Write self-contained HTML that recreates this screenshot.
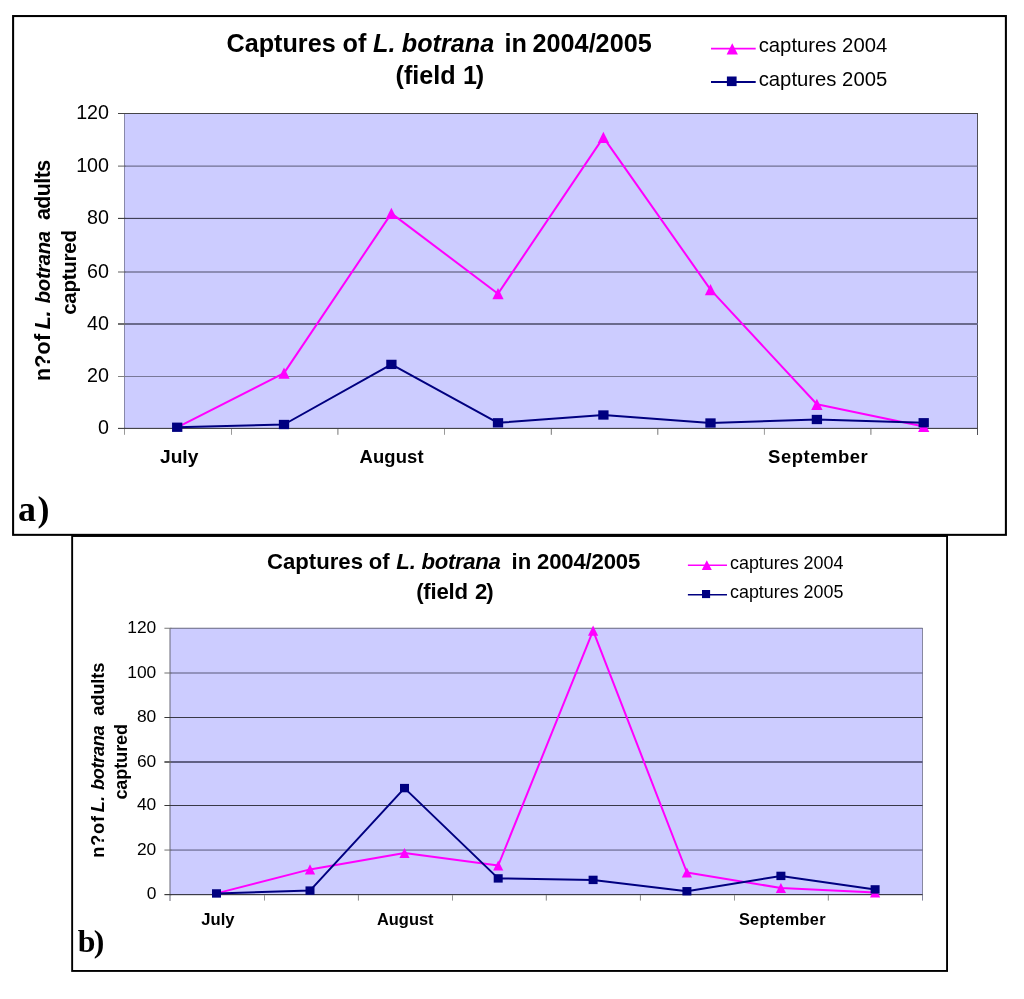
<!DOCTYPE html>
<html lang="en"><head><meta charset="utf-8"><title>Captures of L. botrana in 2004/2005</title>
<style>html,body{margin:0;padding:0;background:#fff}body{width:1024px;height:999px;overflow:hidden}svg{display:block}text{font-family:"Liberation Sans",Arial,Helvetica,sans-serif;fill:#000}.b{font-weight:bold}.i{font-style:italic}.s{font-family:"Liberation Serif","Times New Roman",serif;font-weight:bold}</style></head><body>
<svg width="1024" height="999" viewBox="0 0 1024 999">
<rect width="1024" height="999" fill="#fff"/>
<rect x="13.1" y="16.05" width="992.8" height="518.8" fill="#fff" stroke="#000" stroke-width="2.05"/>
<rect x="124.5" y="114" width="853" height="314.4" fill="#ccccff"/>
<rect x="124" y="114" width="1" height="314" fill="#8888aa"/>
<rect x="977" y="113" width="1" height="322" fill="#505058"/>
<rect x="124.5" y="113" width="853.5" height="1" fill="#454548"/>
<rect x="118" y="113" width="7.5" height="1" fill="#454545"/>
<rect x="124.5" y="165.6" width="853.5" height="1" fill="#5a5a78"/>
<rect x="118" y="165.6" width="7.5" height="1" fill="#606060"/>
<rect x="124.5" y="217.86" width="853.5" height="1.15" fill="#404058"/>
<rect x="118" y="217.86" width="7.5" height="1.15" fill="#404040"/>
<rect x="124.5" y="271.5" width="853.5" height="1" fill="#4c4c68"/>
<rect x="118" y="271.5" width="7.5" height="1" fill="#606060"/>
<rect x="124.5" y="323" width="853.5" height="2" fill="#6a6a8c"/>
<rect x="118" y="323" width="7.5" height="2" fill="#707070"/>
<rect x="124.5" y="376" width="853.5" height="1" fill="#787898"/>
<rect x="118" y="376" width="7.5" height="1" fill="#808080"/>
<rect x="124.5" y="427.86" width="853.5" height="1.15" fill="#444448"/>
<rect x="118" y="427.86" width="7.5" height="1.15" fill="#444444"/>
<rect x="124" y="429" width="1" height="5.8" fill="#999"/>
<rect x="231" y="429" width="1" height="5.8" fill="#999"/>
<rect x="337.4" y="429" width="1" height="5.8" fill="#777"/>
<rect x="444" y="429" width="1" height="5.8" fill="#999"/>
<rect x="550.8" y="429" width="1" height="5.8" fill="#777"/>
<rect x="657.3" y="429" width="1" height="5.8" fill="#777"/>
<rect x="763.9" y="429" width="1" height="5.8" fill="#999"/>
<rect x="870.4" y="429" width="1" height="5.8" fill="#777"/>
<text x="109" y="434.33" font-size="19.7" text-anchor="end">0</text>
<text x="109" y="382.4" font-size="19.7" text-anchor="end">20</text>
<text x="109" y="329.9" font-size="19.7" text-anchor="end">40</text>
<text x="109" y="277.9" font-size="19.7" text-anchor="end">60</text>
<text x="109" y="224.33" font-size="19.7" text-anchor="end">80</text>
<text x="109" y="172" font-size="19.7" text-anchor="end">100</text>
<text x="109" y="119.4" font-size="19.7" text-anchor="end">120</text>
<polyline fill="none" stroke="#ff00ff" stroke-width="2.0" stroke-linejoin="round" points="177.2,427.3 284,373.1 391.4,213.4 498,293.7 603.4,137.4 710.5,289.6 816.9,404.3 923.7,426.4"/>
<path fill="#ff00ff" d="M284 367.45L289.65 378.75H278.35Z"/>
<path fill="#ff00ff" d="M391.4 207.75L397.05 219.05H385.75Z"/>
<path fill="#ff00ff" d="M498 288.05L503.65 299.35H492.35Z"/>
<path fill="#ff00ff" d="M603.4 131.75L609.05 143.05H597.75Z"/>
<path fill="#ff00ff" d="M710.5 283.95L716.15 295.25H704.85Z"/>
<path fill="#ff00ff" d="M816.9 398.65L822.55 409.95H811.25Z"/>
<path fill="#ff00ff" d="M923.7 420.75L929.35 432.05H918.05Z"/>
<polyline fill="none" stroke="#000080" stroke-width="2.0" stroke-linejoin="round" points="177.2,427.25 284,424.5 391.4,364.4 498,422.8 603.4,415 710.5,423 816.9,419.5 923.7,422.75"/>
<rect fill="#000080" x="172.05" y="422.6" width="10.3" height="9.3"/>
<rect fill="#000080" x="278.85" y="419.85" width="10.3" height="9.3"/>
<rect fill="#000080" x="386.25" y="359.75" width="10.3" height="9.3"/>
<rect fill="#000080" x="492.85" y="418.15" width="10.3" height="9.3"/>
<rect fill="#000080" x="598.25" y="410.35" width="10.3" height="9.3"/>
<rect fill="#000080" x="705.35" y="418.35" width="10.3" height="9.3"/>
<rect fill="#000080" x="811.75" y="414.85" width="10.3" height="9.3"/>
<rect fill="#000080" x="918.55" y="418.1" width="10.3" height="9.3"/>
<text class="b" x="179.2" y="463.4" font-size="19.2" text-anchor="middle" textLength="38.2" lengthAdjust="spacing">July</text>
<text class="b" x="391.5" y="463.2" font-size="18.4" text-anchor="middle" textLength="64.1" lengthAdjust="spacing">August</text>
<text class="b" x="817.9" y="463.1" font-size="18.5" text-anchor="middle" textLength="99.7" lengthAdjust="spacing">September</text>
<text class="b" y="51.5" font-size="25.2"><tspan x="226.5">Captures</tspan> <tspan x="342.6">of</tspan> <tspan x="373" class="i">L.</tspan> <tspan x="401.8" class="i">botrana</tspan> <tspan x="504.6">in</tspan> <tspan x="532.6">2004/2005</tspan></text>
<text class="b" y="84.3" font-size="25.2"><tspan x="395.5">(field</tspan> <tspan x="462.9" textLength="21.2" lengthAdjust="spacing">1)</tspan></text>
<line x1="711" y1="48.7" x2="755.7" y2="48.7" stroke="#ff00ff" stroke-width="1.8"/>
<path fill="#ff00ff" d="M732.25 43.25L737.9 54.6H726.6Z"/>
<text x="758.7" y="52" font-size="20.3">captures 2004</text>
<line x1="711" y1="82" x2="755.7" y2="82" stroke="#000080" stroke-width="1.8"/>
<rect fill="#000080" x="726.9" y="76.5" width="9.7" height="9.6"/>
<text x="758.7" y="85.75" font-size="20.3">captures 2005</text>
<text class="b" transform="translate(50 381.1) rotate(-90)" font-size="21.5"><tspan x="0" textLength="47.2" lengthAdjust="spacing">n?of</tspan> <tspan x="51.8" class="i" textLength="18.7" lengthAdjust="spacing">L.</tspan> <tspan x="77.9" class="i" font-size="20.4" textLength="72.4" lengthAdjust="spacing">botrana</tspan> <tspan x="161" textLength="60.3" lengthAdjust="spacing">adults</tspan></text>
<text class="b" transform="translate(76.2 272.4) rotate(-90)" font-size="20.5" text-anchor="middle" textLength="84.8" lengthAdjust="spacing">captured</text>
<text class="s" x="18" y="521.2" font-size="36" textLength="31.4" lengthAdjust="spacing">a)</text>
<rect x="72.15" y="536" width="874.9" height="434.95" fill="#fff" stroke="#000" stroke-width="1.9"/>
<rect x="170" y="628" width="752.5" height="266.5" fill="#ccccff"/>
<rect x="169.5" y="628" width="1" height="273" fill="#686878"/>
<rect x="922" y="628" width="1" height="272.6" fill="#8888a0"/>
<rect x="170.4" y="627.75" width="752.2" height="1" fill="#6a6a80"/>
<rect x="164.4" y="627.75" width="7" height="1" fill="#777777"/>
<rect x="170.4" y="672.5" width="752.2" height="1" fill="#58587a"/>
<rect x="164.4" y="672.5" width="7" height="1" fill="#707070"/>
<rect x="170.4" y="717" width="752.2" height="1" fill="#383848"/>
<rect x="164.4" y="717" width="7" height="1" fill="#383838"/>
<rect x="170.4" y="761" width="752.2" height="2" fill="#606084"/>
<rect x="164.4" y="761" width="7" height="2" fill="#686868"/>
<rect x="170.4" y="805" width="752.2" height="1" fill="#383848"/>
<rect x="164.4" y="805" width="7" height="1" fill="#383838"/>
<rect x="170.4" y="849.55" width="752.2" height="1" fill="#58587a"/>
<rect x="164.4" y="849.55" width="7" height="1" fill="#707070"/>
<rect x="170.4" y="894" width="752.2" height="1.2" fill="#3c3c48"/>
<rect x="164.4" y="894" width="7" height="1.2" fill="#3c3c3c"/>
<rect x="264" y="895" width="1" height="5.6" fill="#999"/>
<rect x="357.9" y="895" width="1" height="5.6" fill="#888"/>
<rect x="452" y="895" width="1" height="5.6" fill="#999"/>
<rect x="545.8" y="895" width="1" height="5.6" fill="#888"/>
<rect x="639.9" y="895" width="1" height="5.6" fill="#888"/>
<rect x="734" y="895" width="1" height="5.6" fill="#999"/>
<rect x="827.8" y="895" width="1" height="5.6" fill="#888"/>
<text x="156.3" y="899.1" font-size="17.4" text-anchor="end">0</text>
<text x="156.3" y="854.55" font-size="17.4" text-anchor="end">20</text>
<text x="156.3" y="810" font-size="17.4" text-anchor="end">40</text>
<text x="156.3" y="766.5" font-size="17.4" text-anchor="end">60</text>
<text x="156.3" y="722" font-size="17.4" text-anchor="end">80</text>
<text x="156.3" y="677.5" font-size="17.4" text-anchor="end">100</text>
<text x="156.3" y="632.75" font-size="17.4" text-anchor="end">120</text>
<polyline fill="none" stroke="#ff00ff" stroke-width="2.0" stroke-linejoin="round" points="216.5,893.4 310,869.4 404.5,853 498.2,865.5 593.1,630.7 686.9,872.5 780.9,888 875.1,892.4"/>
<path fill="#ff00ff" d="M310 864.3L315.1 874.5H304.9Z"/>
<path fill="#ff00ff" d="M404.5 847.9L409.6 858.1H399.4Z"/>
<path fill="#ff00ff" d="M498.2 860.4L503.3 870.6H493.1Z"/>
<path fill="#ff00ff" d="M593.1 625.6L598.2 635.8H588Z"/>
<path fill="#ff00ff" d="M686.9 867.4L692 877.6H681.8Z"/>
<path fill="#ff00ff" d="M780.9 882.9L786 893.1H775.8Z"/>
<path fill="#ff00ff" d="M875.1 887.3L880.2 897.5H870Z"/>
<polyline fill="none" stroke="#000080" stroke-width="2.0" stroke-linejoin="round" points="216.5,893.45 310,890.6 404.5,788.1 498.2,878.4 593.1,879.9 686.9,891.25 780.9,875.9 875.1,889.4"/>
<rect fill="#000080" x="212" y="889.25" width="9" height="8.4"/>
<rect fill="#000080" x="305.5" y="886.4" width="9" height="8.4"/>
<rect fill="#000080" x="400" y="783.9" width="9" height="8.4"/>
<rect fill="#000080" x="493.7" y="874.2" width="9" height="8.4"/>
<rect fill="#000080" x="588.6" y="875.7" width="9" height="8.4"/>
<rect fill="#000080" x="682.4" y="887.05" width="9" height="8.4"/>
<rect fill="#000080" x="776.4" y="871.7" width="9" height="8.4"/>
<rect fill="#000080" x="870.6" y="885.2" width="9" height="8.4"/>
<text class="b" x="217.95" y="925" font-size="16.6" text-anchor="middle" textLength="33.2" lengthAdjust="spacing">July</text>
<text class="b" x="405.25" y="925" font-size="16.4" text-anchor="middle" textLength="56.5" lengthAdjust="spacing">August</text>
<text class="b" x="782.2" y="925" font-size="16.3" text-anchor="middle" textLength="86.6" lengthAdjust="spacing">September</text>
<text class="b" y="568.75" font-size="22.15"><tspan x="267">Captures</tspan> <tspan x="368.7">of</tspan> <tspan x="396.3" class="i">L.</tspan> <tspan x="421.5" class="i" textLength="79.4" lengthAdjust="spacing">botrana</tspan> <tspan x="511.5">in</tspan> <tspan x="537.1" textLength="103.2" lengthAdjust="spacing">2004/2005</tspan></text>
<text class="b" y="598.6" font-size="22.15"><tspan x="416.2" textLength="51.8" lengthAdjust="spacing">(field</tspan> <tspan x="474.9" textLength="18.7" lengthAdjust="spacing">2)</tspan></text>
<line x1="687.9" y1="565.3" x2="727" y2="565.3" stroke="#ff00ff" stroke-width="1.4"/>
<path fill="#ff00ff" d="M706.8 560.3L711.8 570.1H701.8Z"/>
<text x="730" y="568.75" font-size="17.9">captures 2004</text>
<line x1="687.9" y1="594.8" x2="727" y2="594.8" stroke="#000080" stroke-width="1.6"/>
<rect fill="#000080" x="702" y="590" width="8.1" height="8.1"/>
<text x="730" y="598" font-size="17.9">captures 2005</text>
<text class="b" transform="translate(104.3 857.7) rotate(-90)" font-size="18.3"><tspan x="0" textLength="41.8" lengthAdjust="spacing">n?of</tspan> <tspan x="45.4" class="i" textLength="16.3" lengthAdjust="spacing">L.</tspan> <tspan x="67.8" class="i" textLength="64.6" lengthAdjust="spacing">botrana</tspan> <tspan x="142" textLength="53" lengthAdjust="spacing">adults</tspan></text>
<text class="b" transform="translate(127 761.75) rotate(-90)" font-size="18" text-anchor="middle" textLength="75.7" lengthAdjust="spacing">captured</text>
<text class="s" x="77.7" y="952" font-size="31.8" textLength="26.6" lengthAdjust="spacing">b)</text>
</svg></body></html>
